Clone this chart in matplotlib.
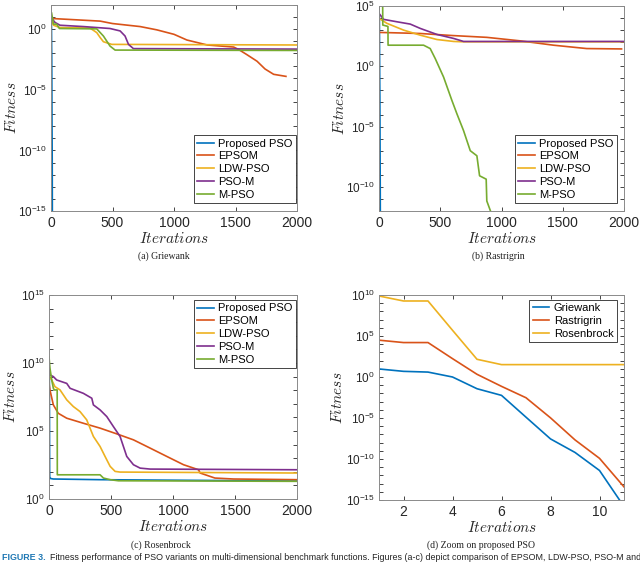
import numpy as np
import matplotlib
matplotlib.use('Agg')
import matplotlib.pyplot as plt
from matplotlib.ticker import FixedLocator, NullFormatter

plt.rcParams['font.family'] = ['Liberation Sans', 'DejaVu Sans']
plt.rcParams['mathtext.fontset'] = 'cm'

# Farben wie MATLAB-Standard
c_blue = '#0072BD'
c_red = '#D95319'
c_yellow = '#EDB120'
c_purple = '#7E2F8E'
c_green = '#77AC30'

series_names = ['Proposed PSO', 'EPSOM', 'LDW-PSO', 'PSO-M', 'M-PSO']

# (d) Zoom: Proposed PSO, Iterationen 1..11, Werte als log10(Fitness)
zoom_it = [1, 2, 3, 4, 5, 6, 7, 8, 9, 10, 11]
zoom_griewank = [0.98, 0.69, 0.6, 0.0, -1.43, -2.24, -4.9, -7.55, -9.2, -11.4, -15.8]
zoom_rastrigin = [4.49, 4.2, 4.2, 2.24, 0.33, -1.14, -2.53, -4.98, -7.67, -9.92, -13.4]
zoom_rosenbrock = [9.88, 9.27, 9.27, 5.7, 2.16, 1.51, 1.51, 1.51, 1.51, 1.51, 1.51]

# (a) Griewank
gr_epsom_it = [0, 400, 500, 725, 860, 1000, 1105, 1270, 1485, 1525, 1590, 1675, 1740, 1810, 1910]
gr_epsom = [0.89, 0.67, 0.47, 0.22, -0.05, -0.42, -0.89, -1.3, -1.47, -1.67, -2.08, -2.64, -3.28, -3.72, -3.89]
gr_ldw_it = [0, 20, 73, 317, 372, 400, 426, 494, 2000]
gr_ldw = [0.78, 0.33, 0.14, 0.1, -0.28, -0.69, -1.03, -1.25, -1.3]
gr_psom_it = [0, 33, 73, 263, 480, 562, 602, 630, 670, 2000]
gr_psom = [0.97, 0.56, 0.33, 0.22, 0.06, -0.14, -0.56, -1.25, -1.6, -1.64]
gr_mpso_it = [5, 20, 46, 68, 372, 426, 480, 521, 2000]
gr_mpso = [1.33, 0.42, 0.42, 0.06, 0.03, -0.56, -1.39, -1.72, -1.75]

# (b) Rastrigin
ra_epsom_it = [0, 337, 600, 880, 1152, 1424, 1696, 1980]
ra_epsom = [2.81, 2.72, 2.55, 2.4, 2.11, 1.75, 1.47, 1.44]
ra_ldw_it = [0, 65, 201, 337, 473, 609, 690, 2000]
ra_ldw = [3.97, 3.56, 3.0, 2.58, 2.22, 2.06, 2.03, 2.03]
ra_psom_it = [0, 38, 147, 255, 337, 473, 609, 690, 2000]
ra_psom = [4.39, 3.89, 3.69, 3.5, 3.14, 2.64, 2.31, 2.06, 2.06]
ra_mpso_it = [11, 30, 31, 65, 73, 74, 364, 418, 459, 527, 595, 636, 690, 745, 799, 821,
              875, 880, 913, 921]
ra_mpso = [5.0, 5.0, 3.42, 3.33, 3.3, 1.75, 1.75, 1.47, 0.64, -0.89, -2.83, -3.94, -5.33,
           -7.0, -7.42, -9.08, -9.36, -11.17, -12.08, -12.55]

# (c) Rosenbrock
ro_prop_it = [1, 2, 3, 4, 5, 6, 11, 35, 412, 2000]
ro_prop = [9.88, 9.27, 9.27, 5.7, 2.16, 1.51, 1.51, 1.47, 1.42, 1.32]
ro_epsom_it = [0, 8, 35, 75, 143, 277, 412, 546, 681, 816, 950, 1085, 1206, 1219, 1338, 1488, 2000]
ro_epsom = [8.5, 8.0, 6.92, 6.3, 5.94, 5.57, 5.21, 4.79, 4.35, 3.74, 3.13, 2.52, 2.15, 1.91,
            1.54, 1.47, 1.42]
ro_ldw_it = [0, 22, 48, 89, 143, 196, 250, 304, 358, 412, 452, 493, 533, 573, 2000]
ro_ldw = [9.0, 8.75, 8.26, 8.02, 7.29, 6.8, 6.43, 5.82, 4.6, 3.86, 3.13, 2.4, 2.03, 1.98, 1.91]
ro_psom_it = [0, 8, 35, 62, 143, 170, 277, 345, 358, 412, 466, 519, 573, 627, 681, 735, 816, 2000]
ro_psom = [9.73, 9.12, 9.0, 8.75, 8.5, 8.14, 7.77, 7.41, 6.92, 6.55, 6.06, 5.33, 4.6, 3.13,
           2.52, 2.27, 2.2, 2.15]
ro_mpso_it = [0, 8, 22, 35, 43, 66, 67, 412, 439, 493, 560, 2000]
ro_mpso = [10.46, 9.6, 8.75, 8.14, 8.02, 8.02, 1.78, 1.78, 1.54, 1.42, 1.34, 1.3]


def style_axes(ax, ylim, yticks, xlim, xticks, ylab_x):
    ax.set_yscale('log')
    ax.set_ylim(ylim)
    ax.set_xlim(xlim)
    ax.set_yticks(yticks)
    ax.set_xticks(xticks)
    # kleine Ticks an jeder Dekade
    lo = int(np.floor(np.log10(ylim[0])))
    hi = int(np.ceil(np.log10(ylim[1])))
    ax.yaxis.set_minor_locator(FixedLocator([10.0 ** k for k in range(lo, hi + 1)]))
    ax.yaxis.set_minor_formatter(NullFormatter())
    ax.tick_params(which='both', direction='in', top=True, right=True,
                   colors='#262626', length=3, width=0.6)
    ax.tick_params(axis='x', labelsize=10)
    ax.tick_params(axis='y', labelsize=8.5, pad=3)
    for sp in ax.spines.values():
        sp.set_color('#8a8a8a')
        sp.set_linewidth(0.7)
    ax.set_ylabel(r'$Fitness$', fontsize=11, color='#262626')
    ax.yaxis.set_label_coords(ylab_x, 0.5)
    ax.set_xlabel(r'$Iterations$', fontsize=11, color='#262626', labelpad=1)


def log_to_val(v):
    return 10.0 ** np.array(v)


fig = plt.figure(figsize=(6.4, 5.65), dpi=100)
ax_a = fig.add_axes([51 / 640, 1 - 211 / 565, 246 / 640, 206 / 565])
ax_b = fig.add_axes([379 / 640, 1 - 211 / 565, 245 / 640, 205 / 565])
ax_c = fig.add_axes([49 / 640, 1 - 499 / 565, 248 / 640, 204 / 565])
ax_d = fig.add_axes([379 / 640, 1 - 500 / 565, 245 / 640, 205 / 565])

lw = 1.2
leg_kw = dict(fontsize=8, fancybox=False, framealpha=1, edgecolor='#262626',
              handlelength=1.5, handletextpad=0.4, labelspacing=0.25,
              borderpad=0.3, borderaxespad=0)

# (a)
ax_a.plot(zoom_it, log_to_val(zoom_griewank), color=c_blue, lw=lw)
ax_a.plot(gr_epsom_it, log_to_val(gr_epsom), color=c_red, lw=lw)
ax_a.plot(gr_ldw_it, log_to_val(gr_ldw), color=c_yellow, lw=lw)
ax_a.plot(gr_psom_it, log_to_val(gr_psom), color=c_purple, lw=lw)
ax_a.plot(gr_mpso_it, log_to_val(gr_mpso), color=c_green, lw=lw)
style_axes(ax_a, (1e-15, 1e2), [1e-15, 1e-10, 1e-5, 1e0], (0, 2000),
           [0, 500, 1000, 1500, 2000], -0.13)
leg = ax_a.legend(series_names, loc='lower right', bbox_to_anchor=(0.996, 0.039), **leg_kw)
leg.get_frame().set_linewidth(0.6)

# (b)
ax_b.plot(zoom_it, log_to_val(zoom_rastrigin), color=c_blue, lw=lw)
ax_b.plot(ra_epsom_it, log_to_val(ra_epsom), color=c_red, lw=lw)
ax_b.plot(ra_ldw_it, log_to_val(ra_ldw), color=c_yellow, lw=lw)
ax_b.plot(ra_psom_it, log_to_val(ra_psom), color=c_purple, lw=lw)
ax_b.plot(ra_mpso_it, log_to_val(ra_mpso), color=c_green, lw=lw)
style_axes(ax_b, (1e-12, 1e5), [1e-10, 1e-5, 1e0, 1e5], (0, 2000),
           [0, 500, 1000, 1500, 2000], -0.13)
leg = ax_b.legend(series_names, loc='lower right', bbox_to_anchor=(0.971, 0.039), **leg_kw)
leg.get_frame().set_linewidth(0.6)

# (c)
ax_c.plot(ro_prop_it, log_to_val(ro_prop), color=c_blue, lw=lw)
ax_c.plot(ro_epsom_it, log_to_val(ro_epsom), color=c_red, lw=lw)
ax_c.plot(ro_ldw_it, log_to_val(ro_ldw), color=c_yellow, lw=lw)
ax_c.plot(ro_psom_it, log_to_val(ro_psom), color=c_purple, lw=lw)
ax_c.plot(ro_mpso_it, log_to_val(ro_mpso), color=c_green, lw=lw)
style_axes(ax_c, (1e0, 1e15), [1e0, 1e5, 1e10, 1e15], (0, 2000),
           [0, 500, 1000, 1500, 2000], -0.125)
leg = ax_c.legend(series_names, loc='upper right', bbox_to_anchor=(0.996, 0.975), **leg_kw)
leg.get_frame().set_linewidth(0.6)

# (d)
ax_d.plot(zoom_it, log_to_val(zoom_griewank), color=c_blue, lw=lw)
ax_d.plot(zoom_it, log_to_val(zoom_rastrigin), color=c_red, lw=lw)
ax_d.plot(zoom_it, log_to_val(zoom_rosenbrock), color=c_yellow, lw=lw)
style_axes(ax_d, (1e-15, 1e10), [1e-15, 1e-10, 1e-5, 1e0, 1e5, 1e10], (1, 11),
           [2, 4, 6, 8, 10], -0.14)
leg = ax_d.legend(['Griewank', 'Rastrigrin', 'Rosenbrock'], loc='upper right',
                  bbox_to_anchor=(0.971, 0.976), **leg_kw)
leg.get_frame().set_linewidth(0.6)

# Untertitel
cap_kw = dict(fontsize=7, family='Liberation Serif', ha='center', va='center', color='#222222')
fig.text(164 / 640, 1 - 256 / 565, '(a) Griewank', **cap_kw)
fig.text(498 / 640, 1 - 256 / 565, '(b) Rastrigrin', **cap_kw)
fig.text(161 / 640, 1 - 545 / 565, '(c) Rosenbrock', **cap_kw)
fig.text(481 / 640, 1 - 545 / 565, '(d) Zoom on proposed PSO', **cap_kw)

fig.text(0.003, 1 - 558 / 565, 'FIGURE 3.', fontsize=6.4, fontweight='bold',
         color='#1f78b4', ha='left', va='center')
fig.text(50 / 640, 1 - 558 / 565,
         'Fitness performance of PSO variants on multi-dimensional benchmark functions. '
         'Figures (a-c) depict comparison of EPSOM, LDW-PSO, PSO-M and',
         fontsize=6.4, color='#222222', ha='left', va='center')

fig.savefig('out.png', dpi=100)
